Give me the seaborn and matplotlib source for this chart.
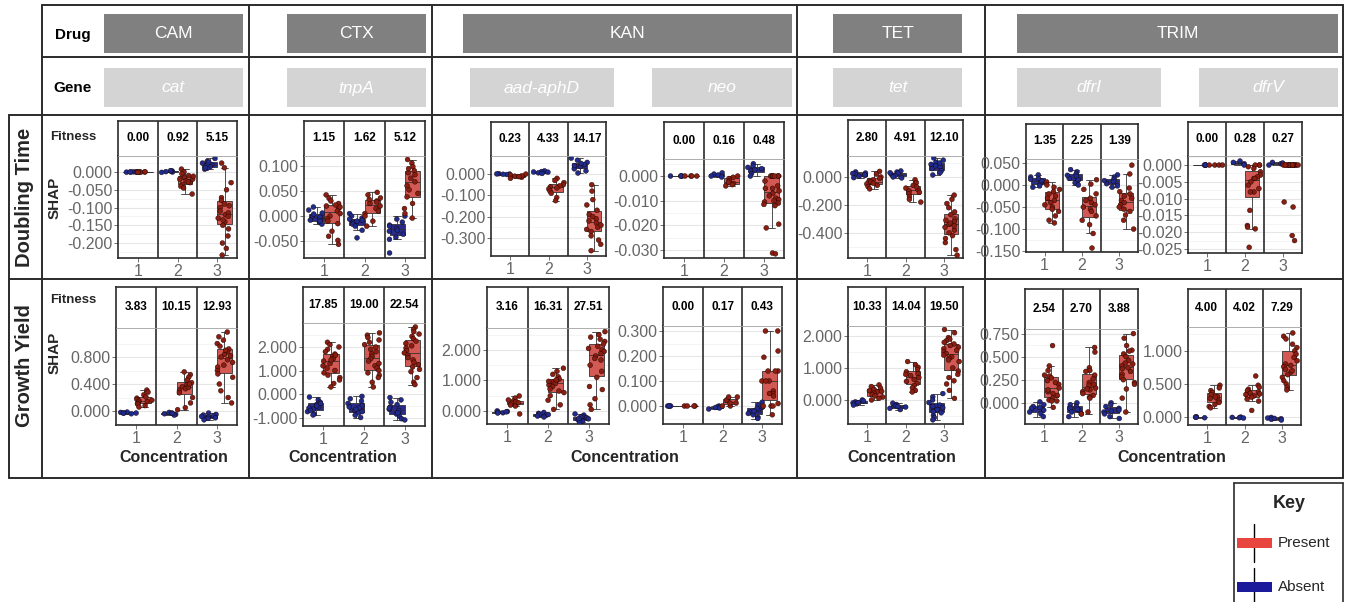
import numpy as np
import pandas as pd
import matplotlib
matplotlib.use("Agg")
import matplotlib.pyplot as plt
import seaborn as sns
from matplotlib.patches import Rectangle

sns.set_theme(style="white")
plt.rcParams["font.family"] = ["Liberation Sans", "DejaVu Sans"]
np.random.seed(3)

# ---------------- data ----------------
CONC = ["1", "2", "3"]
STATUS = ["Absent", "Present"]
DRUGS = ["CAM", "CTX", "KAN", "TET", "TRIM"]
GENES = ["cat", "tnpA", "aad-aphD", "neo", "tet", "dfrI", "dfrV"]
ROWS = ["Doubling Time", "Growth Yield"]

# fitness values shown in the strips
fit_dt = {
    "cat": [0.00, 0.92, 5.15], "tnpA": [1.15, 1.62, 5.12], "aad-aphD": [0.23, 4.33, 14.17],
    "neo": [0.00, 0.16, 0.48], "tet": [2.80, 4.91, 12.10], "dfrI": [1.35, 2.25, 1.39],
    "dfrV": [0.00, 0.28, 0.27],
}
fit_gy = {
    "cat": [3.83, 10.15, 12.93], "tnpA": [17.85, 19.00, 22.54], "aad-aphD": [3.16, 16.31, 27.51],
    "neo": [0.00, 0.17, 0.43], "tet": [10.33, 14.04, 19.50], "dfrI": [2.54, 2.70, 3.88],
    "dfrV": [4.00, 4.02, 7.29],
}

# SHAP values, doubling time  (one list per concentration)
cat_dt_absent = [[0.0, 0.0005, -0.0005, 0.0, 0.001, -0.001],
                 [0.003, 0.001, 0.0, 0.002, -0.001, 0.004],
                 [0.038, 0.03, 0.025, 0.02, 0.015, 0.01, 0.008, 0.022, 0.028, 0.012]]
cat_dt_present = [[0.0, -0.0005, 0.0005, 0.0, -0.001, 0.0005],
                  [0.008, 0.0, -0.005, -0.01, -0.015, -0.02, -0.025, -0.03, -0.035, -0.04, -0.045, -0.02, -0.012, -0.028, -0.062],
                  [0.025, 0.012, -0.03, -0.05, -0.072, -0.08, -0.09, -0.1, -0.11, -0.12, -0.13, -0.14, -0.15, -0.16,
                   -0.095, -0.115, -0.125, -0.135, -0.18, -0.2, -0.215, -0.234]]
tnpA_dt_absent = [[0.018, 0.012, 0.006, 0.0, -0.004, -0.008, -0.012, -0.016, -0.002, 0.004, -0.01],
                  [0.005, 0.0, -0.004, -0.008, -0.012, -0.016, -0.02, -0.01, -0.006, -0.028, -0.043],
                  [0.0, -0.006, -0.012, -0.018, -0.024, -0.03, -0.036, -0.042, -0.046, -0.02, -0.028, -0.073]]
tnpA_dt_present = [[0.042, 0.035, 0.03, 0.025, 0.02, 0.015, 0.01, 0.005, 0.0, -0.005, -0.01, -0.015, 0.018, 0.022, -0.03, -0.04, -0.048, -0.056],
                   [0.047, 0.042, 0.036, 0.03, 0.025, 0.02, 0.015, 0.01, 0.005, 0.0, 0.028, 0.033, -0.01, -0.02],
                   [0.112, 0.105, 0.098, 0.09, 0.082, 0.075, 0.068, 0.06, 0.052, 0.045, 0.038, 0.086, 0.094, 0.025, 0.015, 0.005, -0.004]]
aad_dt_absent = [[0.002, 0.0, -0.002, 0.001, -0.001],
                 [0.015, 0.012, 0.009, 0.006, 0.003, 0.01],
                 [0.075, 0.065, 0.055, 0.045, 0.035, 0.025, 0.015, 0.005, 0.05, 0.04]]
aad_dt_present = [[0.0, -0.005, -0.01, -0.015, -0.02, -0.008, -0.012],
                  [-0.02, -0.03, -0.04, -0.05, -0.06, -0.07, -0.08, -0.09, -0.055, -0.065, -0.11, -0.125],
                  [-0.05, -0.08, -0.12, -0.145, -0.17, -0.19, -0.21, -0.23, -0.25, -0.27, -0.29, -0.31, -0.2, -0.22,
                   -0.24, -0.26, -0.33, -0.36]]
neo_dt_absent = [[0.0, 0.0, 0.0, 0.0],
                 [0.0013, 0.0008, 0.0004, 0.0, -0.0004],
                 [0.005, 0.004, 0.003, 0.002, 0.001, 0.0, 0.0035, 0.0025]]
neo_dt_present = [[0.0, 0.0, 0.0, 0.0],
                  [0.0, -0.0005, -0.001, -0.002, -0.003, -0.004, -0.0035, -0.0025],
                  [0.0, 0.0, 0.0, 0.0, 0.0, 0.0, 0.0, 0.0, -0.002, -0.004, -0.005, -0.005, -0.006, -0.007, -0.008,
                   -0.009, -0.0095, -0.01, -0.0105, -0.011, -0.0115, -0.012, -0.0195, -0.021, -0.0312, -0.0315]]
tet_dt_absent = [[0.036, 0.028, 0.02, 0.012, 0.005, -0.005, 0.015, 0.025],
                 [0.043, 0.035, 0.027, 0.019, 0.01, 0.0, -0.007, 0.03],
                 [0.136, 0.12, 0.105, 0.09, 0.075, 0.06, 0.045, 0.03, 0.014, 0.08, 0.1]]
tet_dt_present = [[0.04, 0.02, 0.0, -0.01, -0.02, -0.03, -0.04, -0.05, -0.06, -0.07, -0.085, -0.035, -0.045],
                  [-0.02, -0.04, -0.06, -0.08, -0.1, -0.12, -0.14, -0.16, -0.18, -0.09, -0.11, -0.07],
                  [-0.13, -0.16, -0.19, -0.22, -0.25, -0.27, -0.3, -0.32, -0.34, -0.36, -0.38, -0.4, -0.42, -0.44,
                   -0.31, -0.33, -0.35, -0.47, -0.52, -0.56]]
dfrI_dt_absent = [[0.023, 0.018, 0.013, 0.008, 0.003, -0.002, -0.005, 0.01, 0.015],
                  [0.035, 0.03, 0.025, 0.02, 0.015, 0.01, 0.005, 0.0, 0.022, 0.012],
                  [0.023, 0.018, 0.013, 0.008, 0.003, -0.002, -0.005, 0.01]]
dfrI_dt_present = [[0.007, 0.0, -0.005, -0.01, -0.015, -0.02, -0.025, -0.03, -0.035, -0.04, -0.045, -0.05, -0.055, -0.06, -0.07, -0.08, -0.086],
                   [0.012, 0.002, -0.01, -0.02, -0.03, -0.035, -0.04, -0.045, -0.05, -0.055, -0.06, -0.07, -0.08, -0.09, -0.11, -0.143],
                   [0.045, 0.025, -0.007, -0.015, -0.02, -0.025, -0.03, -0.035, -0.04, -0.045, -0.05, -0.055, -0.06, -0.068, -0.08, -0.1]]
dfrV_dt_absent = [[0.0, 0.0, 0.0, 0.0],
                  [0.0012, 0.0008, 0.0004, 0.0],
                  [0.0008, 0.0004, 0.0, 0.0006]]
dfrV_dt_present = [[0.0, 0.0, 0.0, 0.0],
                   [0.0, 0.0, 0.0, -0.0005, -0.001, -0.002, -0.003, -0.0035, -0.004, -0.004, -0.005, -0.006, -0.007,
                    -0.008, -0.008, -0.0135, -0.018, -0.0185, -0.019, -0.0245],
                   [0.0, 0.0, 0.0, 0.0, 0.0, 0.0, 0.0, 0.0, 0.0, 0.0, 0.0, 0.0, 0.0, 0.0, 0.0, 0.0,
                    -0.011, -0.0125, -0.021, -0.0225]]

# SHAP values, growth yield
cat_gy_absent = [[-0.015, -0.02, -0.025, -0.03, -0.035, -0.04],
                 [-0.02, -0.03, -0.04, -0.05, -0.06, -0.035],
                 [-0.03, -0.05, -0.07, -0.09, -0.11, -0.13, -0.06, -0.08, -0.1]]
cat_gy_present = [[0.31, 0.28, 0.24, 0.21, 0.19, 0.17, 0.15, 0.13, 0.11, 0.1, 0.08, 0.06, 0.16, 0.14],
                  [0.58, 0.54, 0.5, 0.46, 0.42, 0.39, 0.36, 0.33, 0.3, 0.27, 0.35, 0.4, 0.2, 0.12, 0.05, 0.02],
                  [1.17, 1.1, 1.05, 1.0, 0.96, 0.92, 0.88, 0.84, 0.8, 0.76, 0.72, 0.68, 0.65, 0.6, 0.55, 0.5, 0.9,
                   0.82, 0.4, 0.3, 0.2, 0.12]]
tnpA_gy_absent = [[-0.13, -0.25, -0.35, -0.45, -0.55, -0.65, -0.75, -0.85, -0.89, -0.5, -0.6, -0.7, -0.4],
                  [-0.1, -0.2, -0.3, -0.4, -0.5, -0.6, -0.7, -0.8, -0.9, -1.0, -0.55, -0.65, -0.75],
                  [-0.15, -0.25, -0.35, -0.45, -0.55, -0.65, -0.75, -0.85, -0.95, -1.05, -1.1, -0.6, -0.7, -0.8]]
tnpA_gy_present = [[2.2, 2.1, 2.0, 1.9, 1.8, 1.7, 1.6, 1.5, 1.4, 1.3, 1.2, 1.1, 1.0, 0.9, 0.8, 0.7, 0.6, 1.45, 1.65, 0.45, 0.3],
                   [2.6, 2.5, 2.4, 2.3, 2.2, 2.1, 2.0, 1.9, 1.8, 1.7, 1.6, 1.5, 1.4, 1.3, 1.2, 1.1, 1.0, 0.9, 0.8,
                    0.7, 0.5, 0.3],
                   [2.85, 2.75, 2.65, 2.55, 2.45, 2.35, 2.25, 2.15, 2.05, 1.95, 1.85, 1.75, 1.65, 1.55, 1.45, 1.35,
                    1.25, 1.15, 1.05, 0.95, 0.7, 0.5, 0.4]]
aad_gy_absent = [[0.0, -0.02, -0.04, -0.06, -0.07, -0.03],
                 [-0.05, -0.08, -0.11, -0.14, -0.17, -0.2, -0.12],
                 [-0.1, -0.14, -0.18, -0.22, -0.26, -0.3, -0.34, -0.37, -0.2, -0.25]]
aad_gy_present = [[0.49, 0.42, 0.36, 0.32, 0.28, 0.25, 0.22, 0.19, 0.16, 0.3, 0.27, -0.1],
                  [1.4, 1.3, 1.2, 1.12, 1.05, 1.0, 0.95, 0.9, 0.85, 0.8, 0.72, 0.65, 0.6, 0.5, 0.35, 0.2, 0.05, 1.02, 0.97],
                  [2.6, 2.5, 2.42, 2.35, 2.28, 2.2, 2.12, 2.05, 2.0, 1.95, 1.88, 1.8, 1.72, 1.67, 1.5, 1.3, 1.1,
                   0.8, 0.7, 0.4, 0.2, 0.05]]
neo_gy_absent = [[0.0, 0.0, 0.0, 0.0],
                 [0.0, -0.004, -0.008, -0.012, -0.006],
                 [0.015, 0.005, -0.005, -0.015, -0.025, -0.035, -0.045, -0.05, -0.01, -0.02, -0.03]]
neo_gy_present = [[0.0, 0.0, 0.0, 0.0],
                  [0.0, 0.0, 0.012, 0.012, 0.024, 0.024, 0.036, 0.036],
                  [0.3, 0.3, 0.22, 0.195, 0.14, 0.14, 0.14, 0.1, 0.1, 0.1, 0.06, 0.05, 0.05, 0.04, 0.01, 0.0, 0.0,
                   0.0, -0.035]]
tet_gy_absent = [[0.0, -0.03, -0.06, -0.09, -0.12, -0.16, -0.08],
                 [-0.1, -0.14, -0.18, -0.22, -0.26, -0.3, -0.2],
                 [0.2, 0.1, 0.0, -0.08, -0.16, -0.24, -0.32, -0.4, -0.48, -0.55, -0.62, -0.2, -0.3, -0.36]]
tet_gy_present = [[0.47, 0.42, 0.37, 0.33, 0.29, 0.25, 0.21, 0.17, 0.13, 0.09, 0.05, 0.0, 0.27],
                  [1.2, 1.1, 1.02, 0.95, 0.88, 0.82, 0.76, 0.7, 0.64, 0.58, 0.52, 0.45, 0.38, 0.3, 0.25, 0.8],
                  [2.2, 2.1, 1.95, 1.9, 1.85, 1.8, 1.75, 1.7, 1.65, 1.6, 1.55, 1.5, 1.45, 1.4, 1.35, 1.3, 1.25, 1.2,
                   1.0, 0.9, 0.8, 0.7, 0.6, 0.5, 0.3, 0.05]]
dfrI_gy_absent = [[0.01, -0.02, -0.04, -0.06, -0.08, -0.1, -0.12, -0.15, -0.05],
                  [0.0, -0.02, -0.04, -0.06, -0.08, -0.1, -0.12, -0.15, -0.07],
                  [0.0, -0.02, -0.04, -0.06, -0.08, -0.1, -0.12, -0.15, -0.17, -0.09]]
dfrI_gy_present = [[0.62, 0.4, 0.35, 0.3, 0.29, 0.27, 0.24, 0.2, 0.16, 0.12, 0.1, 0.08, 0.05, 0.03, 0.02, 0.02, -0.05, 0.22, 0.14],
                   [0.6, 0.55, 0.38, 0.35, 0.34, 0.3, 0.26, 0.22, 0.19, 0.16, 0.14, 0.12, 0.1, 0.08, 0.06, 0.05, -0.1, -0.12, 0.2, 0.15],
                   [0.75, 0.7, 0.62, 0.57, 0.56, 0.53, 0.5, 0.46, 0.43, 0.4, 0.37, 0.34, 0.31, 0.28, 0.25, 0.22, 0.2, 0.15,
                    0.05, -0.1, 0.42, 0.38]]
dfrV_gy_absent = [[0.005, 0.0, -0.005, -0.01],
                  [0.0, -0.005, -0.01, -0.015],
                  [-0.005, -0.015, -0.025, -0.035, -0.045, -0.02]]
dfrV_gy_present = [[0.48, 0.44, 0.4, 0.37, 0.34, 0.31, 0.28, 0.25, 0.22, 0.19, 0.16, 0.14, 0.3],
                   [0.62, 0.48, 0.45, 0.42, 0.4, 0.38, 0.36, 0.34, 0.32, 0.3, 0.27, 0.24, 0.1, 0.35],
                   [1.27, 1.22, 1.18, 1.1, 1.05, 1.0, 0.95, 0.9, 0.85, 0.8, 0.76, 0.72, 0.68, 0.64, 0.6, 0.55, 0.5,
                    0.45, 0.41, 0.78, 0.7]]

# y axis breaks per panel
ticks_dt = {
    "cat": [0.0, -0.05, -0.1, -0.15, -0.2], "tnpA": [-0.05, 0.0, 0.05, 0.1],
    "aad-aphD": [0.0, -0.1, -0.2, -0.3], "neo": [0.0, -0.01, -0.02, -0.03],
    "tet": [0.0, -0.2, -0.4], "dfrI": [0.05, 0.0, -0.05, -0.1, -0.15],
    "dfrV": [0.0, -0.005, -0.01, -0.015, -0.02, -0.025],
}
ticks_gy = {
    "cat": [0.0, 0.4, 0.8], "tnpA": [-1.0, 0.0, 1.0, 2.0], "aad-aphD": [0.0, 1.0, 2.0],
    "neo": [0.0, 0.1, 0.2, 0.3], "tet": [0.0, 1.0, 2.0], "dfrI": [0.0, 0.25, 0.5, 0.75],
    "dfrV": [0.0, 0.5, 1.0],
}

SHAP_DT = {
    "cat": (cat_dt_absent, cat_dt_present), "tnpA": (tnpA_dt_absent, tnpA_dt_present),
    "aad-aphD": (aad_dt_absent, aad_dt_present), "neo": (neo_dt_absent, neo_dt_present),
    "tet": (tet_dt_absent, tet_dt_present), "dfrI": (dfrI_dt_absent, dfrI_dt_present),
    "dfrV": (dfrV_dt_absent, dfrV_dt_present),
}
SHAP_GY = {
    "cat": (cat_gy_absent, cat_gy_present), "tnpA": (tnpA_gy_absent, tnpA_gy_present),
    "aad-aphD": (aad_gy_absent, aad_gy_present), "neo": (neo_gy_absent, neo_gy_present),
    "tet": (tet_gy_absent, tet_gy_present), "dfrI": (dfrI_gy_absent, dfrI_gy_present),
    "dfrV": (dfrV_gy_absent, dfrV_gy_present),
}

# ---------------- layout (pixels) ----------------
W, H = 1349, 602
# x0, x1, y_top, y_strip, y_bottom, ylim_top, ylim_bottom
BOX_DT = {
    "cat": (118, 237, 121, 156, 258, 0.045, -0.242),
    "tnpA": (304, 425, 121, 156, 258, 0.119, -0.083),
    "aad-aphD": (491, 606, 122, 156, 256, 0.085, -0.385),
    "neo": (664, 784, 122, 159, 258, 0.0069, -0.0332),
    "tet": (848, 963, 120, 156, 258, 0.15, -0.58),
    "dfrI": (1026, 1138, 124, 159, 252, 0.059, -0.152),
    "dfrV": (1188, 1302, 122, 156, 253, 0.0027, -0.0262),
}
BOX_GY = {
    "cat": (116, 237, 287, 328, 425, 1.23, -0.207),
    "tnpA": (303, 425, 287, 323, 426, 3.02, -1.36),
    "aad-aphD": (487, 609, 287, 328, 424, 2.72, -0.43),
    "neo": (663, 782, 287, 326, 424, 0.32, -0.072),
    "tet": (848, 963, 287, 326, 424, 2.31, -0.75),
    "dfrI": (1025, 1138, 289, 329, 424, 0.80, -0.23),
    "dfrV": (1188, 1301, 289, 327, 425, 1.36, -0.12),
}
DRUG_BOX = {"CAM": (104, 243), "CTX": (287, 426), "KAN": (463, 792), "TET": (833, 962), "TRIM": (1017, 1338)}
GENE_BOX = {"cat": (104, 243), "tnpA": (287, 426), "aad-aphD": (470, 614), "neo": (652, 792),
            "tet": (833, 962), "dfrI": (1017, 1161), "dfrV": (1199, 1338)}
CONC_X = [174, 343, 625, 902, 1172]

BOX_COLORS = {"Absent": "#1A1A9A", "Present": "#E8453F"}
PT_COLORS = {"Absent": "#1E2C8E", "Present": "#8A1E10"}
LINE = "#2b2b2b"
TICK_GREY = "#595959"

fig = plt.figure(figsize=(W / 100, H / 100), dpi=100)
fig.patch.set_facecolor("white")

bg = fig.add_axes([0, 0, 1, 1])
bg.set_xlim(0, W)
bg.set_ylim(H, 0)
bg.axis("off")


def px_axes(x0, x1, y0, y1):
    return fig.add_axes([x0 / W, 1 - y1 / H, (x1 - x0) / W, (y1 - y0) / H])


# ---------------- table grid ----------------
for y in [5, 57]:
    bg.plot([42, 1343], [y, y], color=LINE, lw=1.4)
for y in [115, 279, 478]:
    bg.plot([9, 1343], [y, y], color=LINE, lw=1.4)
bg.plot([9, 9], [115, 478], color=LINE, lw=1.4)
for x in [42, 249, 432, 797, 985, 1343]:
    bg.plot([x, x], [5, 478], color=LINE, lw=1.4)

bg.text(73, 35, "Drug", ha="center", va="center", fontsize=11, fontweight="bold", color="black")
bg.text(73, 88, "Gene", ha="center", va="center", fontsize=11, fontweight="bold", color="black")
for name, (a, b) in DRUG_BOX.items():
    bg.add_patch(Rectangle((a, 14), b - a, 39, facecolor="#808080", edgecolor="none"))
    bg.text((a + b) / 2, 34, name, ha="center", va="center", fontsize=12.5, color="white")
for name, (a, b) in GENE_BOX.items():
    bg.add_patch(Rectangle((a, 68), b - a, 39, facecolor="#D4D4D4", edgecolor="none"))
    bg.text((a + b) / 2, 88, name, ha="center", va="center", fontsize=12.5, color="white", style="italic")

bg.text(25, 197, ROWS[0], rotation=90, ha="center", va="center", fontsize=14.5, fontweight="bold")
bg.text(25, 366, ROWS[1], rotation=90, ha="center", va="center", fontsize=14.5, fontweight="bold")
for yf, ys in [(137, 198), (300, 353)]:
    bg.text(73, yf, "Fitness", ha="center", va="center", fontsize=9.5, fontweight="bold")
    bg.text(55, ys, "SHAP", rotation=90, ha="center", va="center", fontsize=11, fontweight="bold")
for x in CONC_X:
    bg.text(x, 457, "Concentration", ha="center", va="center", fontsize=11.5, fontweight="bold")


# ---------------- panels ----------------
def draw_panel(box, absent, present, fitness, ticks):
    x0, x1, yt, ys, yb, ytop, ybot = box
    rows = []
    for c, a, p in zip(CONC, absent, present):
        rows += [(c, "Absent", v) for v in a]
        rows += [(c, "Present", v) for v in p]
    df = pd.DataFrame(rows, columns=["conc", "status", "shap"])

    ax = px_axes(x0, x1, ys, yb)
    ax.set_facecolor("white")
    sns.boxplot(data=df, x="conc", y="shap", hue="status", order=CONC, hue_order=STATUS,
                palette=BOX_COLORS, width=0.75, showfliers=False, linewidth=0.6,
                linecolor="#333333", legend=False, ax=ax)
    sns.stripplot(data=df, x="conc", y="shap", hue="status", order=CONC, hue_order=STATUS,
                  palette=PT_COLORS, dodge=True, jitter=0.42, size=3.5, linewidth=0.3,
                  edgecolor="#1a0000", legend=False, zorder=3, ax=ax)
    ax.set_xlim(-0.5, 2.5)
    ax.set_ylim(ybot, ytop)
    ax.set_yticks(ticks)
    ax.set_yticklabels([f"{t:.3f}" for t in ticks])
    step = abs(ticks[1] - ticks[0])
    lo, hi = min(ticks), max(ticks)
    minor = np.arange(lo - step / 2, hi + step, step)
    ax.set_yticks(minor, minor=True)
    ax.set_axisbelow(True)
    ax.grid(axis="y", which="major", color="#E6E6E6", lw=0.8)
    ax.grid(axis="y", which="minor", color="#F0F0F0", lw=0.5)
    ax.set_ylim(ybot, ytop)
    ax.tick_params(axis="both", which="major", labelsize=11.5, colors=TICK_GREY, length=3, width=0.6,
                   left=True, bottom=True, pad=1)
    ax.tick_params(axis="y", which="minor", length=0)
    for lab in ax.get_xticklabels() + ax.get_yticklabels():
        lab.set_color("#666666")
    ax.set_xlabel("")
    ax.set_ylabel("")
    for xv in [0.5, 1.5]:
        ax.axvline(xv, color=LINE, lw=1.2, zorder=4)
    for s in ["left", "right", "bottom"]:
        ax.spines[s].set_color(LINE)
        ax.spines[s].set_linewidth(1.2)
    ax.spines["top"].set_visible(False)

    sx = px_axes(x0, x1, yt, ys)
    sx.set_facecolor("white")
    sx.set_xlim(-0.5, 2.5)
    sx.set_ylim(0, 1)
    sx.set_xticks([])
    sx.set_yticks([])
    for i, v in enumerate(fitness):
        sx.text(i, 0.5, f"{v:.2f}", ha="center", va="center", fontsize=8.5, fontweight="bold", color="black")
    for xv in [0.5, 1.5]:
        sx.axvline(xv, color=LINE, lw=1.2)
    for s in ["left", "right", "top"]:
        sx.spines[s].set_color(LINE)
        sx.spines[s].set_linewidth(1.2)
    sx.spines["bottom"].set_color("#A0A0A0")
    sx.spines["bottom"].set_linewidth(0.6)


for g in GENES:
    a, p = SHAP_DT[g]
    draw_panel(BOX_DT[g], a, p, fit_dt[g], ticks_dt[g])
    a, p = SHAP_GY[g]
    draw_panel(BOX_GY[g], a, p, fit_gy[g], ticks_gy[g])

# ---------------- key ----------------
bg.plot([1234, 1343], [483, 483], color=LINE, lw=1.2)
bg.plot([1234, 1234], [483, 602], color=LINE, lw=1.2)
bg.plot([1343, 1343], [483, 602], color=LINE, lw=1.2)
bg.text(1289, 503, "Key", ha="center", va="center", fontsize=13, fontweight="bold")
for yc, lab in [(543, "Present"), (587, "Absent")]:
    bg.plot([1254, 1254], [yc - 19, yc + 19], color="black", lw=1.0)
    bg.add_patch(Rectangle((1237, yc - 5), 35, 10, facecolor=BOX_COLORS[lab], edgecolor="none", zorder=3))
    bg.text(1278, yc, lab, ha="left", va="center", fontsize=11)

fig.savefig("out.png", dpi=100)
